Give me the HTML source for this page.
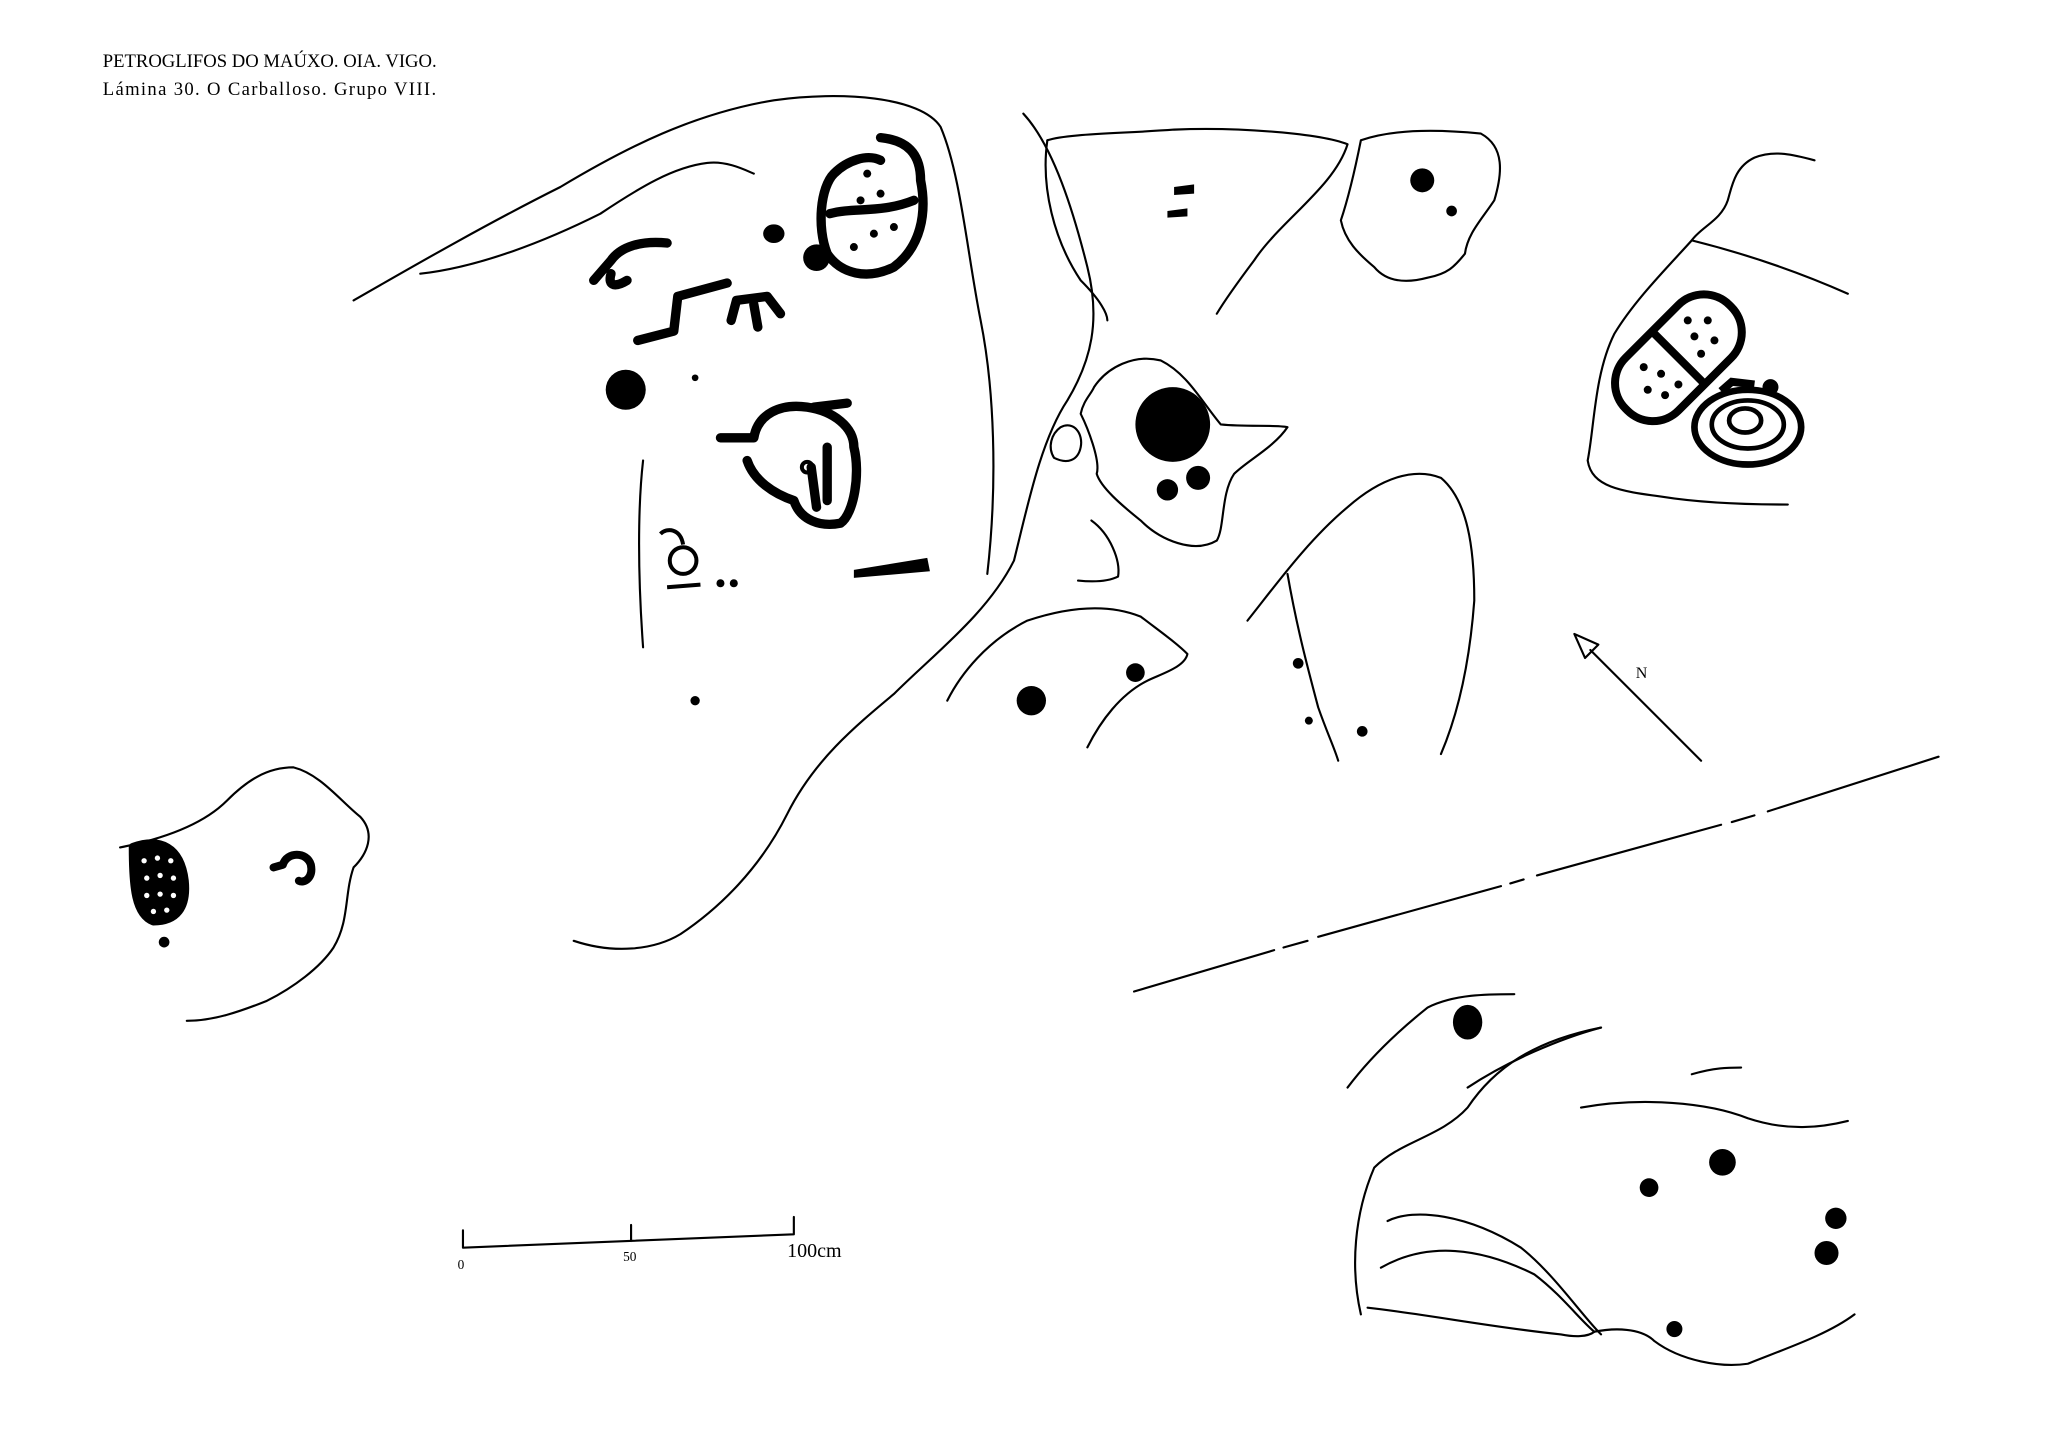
<!DOCTYPE html>
<html><head><meta charset="utf-8"><style>
html,body{margin:0;padding:0;background:#fff;}
svg{display:block;}
text{font-family:"Liberation Serif",serif;fill:#000;}
</style></head><body>
<svg width="2068" height="1432" viewBox="0 0 1550 1073" xmlns="http://www.w3.org/2000/svg">
<g fill="none" stroke="#000" stroke-width="1.6" stroke-linecap="round" stroke-linejoin="round">
<path d="M265,225 C300,205 360,170 420,140 C470,110 520,85 580,75 C630,68 690,72 705,95 C720,130 725,190 735,240 C745,290 748,360 740,430"/>
<path d="M315,205 C360,200 410,180 450,160 C480,140 505,125 530,122 C545,120 560,128 565,130"/>
<path d="M482,345 C478,380 478,430 482,485"/>
<path d="M767,85 C790,110 805,160 815,200 C825,240 818,270 800,300 C780,330 770,380 760,420 C740,460 700,490 670,520 C640,545 610,570 590,610 C570,650 540,680 510,700 C490,712 460,715 430,705"/>
<path d="M785,105 C800,100 840,100 880,97 C930,95 990,100 1010,108 C1000,140 960,165 940,195 C925,215 915,230 912,235"/>
<path d="M785,105 C780,140 790,180 810,210 C825,225 830,235 830,240"/>
<path d="M820,290 C830,275 850,265 870,270 C890,280 900,300 915,318 C935,320 955,318 965,320 C955,335 935,345 925,355 C915,370 918,395 912,405 C895,415 870,405 855,390 C840,378 825,365 822,355 C825,345 815,320 810,310 C812,300 818,295 820,290Z"/>
<path d="M795,320 C805,315 812,325 810,335 C808,345 800,348 790,343 C785,335 788,325 795,320Z"/>
<path d="M818,390 C832,400 840,420 838,432 C830,436 818,436 808,435"/>
<path d="M1020,105 C1040,98 1070,96 1110,100 C1128,110 1126,130 1120,150 C1110,165 1100,175 1098,190 C1090,200 1085,205 1070,208 C1055,212 1040,212 1030,200 C1018,190 1008,180 1005,165 C1010,150 1015,130 1020,105Z"/>
<path d="M935,465 C955,440 980,405 1010,380 C1035,358 1060,350 1080,358 C1100,375 1105,410 1105,450 C1102,490 1095,530 1080,565"/>
<path d="M965,430 C972,470 980,500 988,530 C995,550 1000,560 1003,570"/>
<path d="M710,525 C720,505 740,480 770,465 C800,455 830,452 855,462 C872,475 882,482 890,490 C888,500 870,505 860,510 C840,520 825,540 815,560"/>
<path d="M1360,120 C1345,116 1330,112 1315,118 C1300,125 1298,140 1295,150 C1290,165 1275,170 1268,180 C1250,200 1225,225 1210,250 C1195,280 1195,320 1190,345 C1193,365 1215,368 1245,372 C1270,376 1300,378 1340,378"/>
<path d="M1268,180 C1300,188 1340,200 1385,220"/>
<path d="M1275,570 L1192,487"/>
<path d="M1180,475 L1198,483 L1188,493 Z"/>
<path d="M850,743 L955,712 M962,710 L980,705 M988,702 L1125,664 M1132,662 L1142,659 M1152,656 L1290,618 M1298,616 L1315,611 M1325,608 L1453,567"/>
<path d="M1010,815 C1025,795 1045,775 1070,755 C1090,745 1115,745 1135,745"/>
<path d="M1100,815 C1130,795 1170,778 1200,770"/>
<path d="M1268,805 C1285,800 1295,800 1305,800"/>
<path d="M1185,830 C1230,822 1280,826 1310,838 C1340,848 1365,845 1385,840"/>
<path d="M1020,985 C1012,950 1015,910 1030,875 C1050,855 1080,852 1100,830 C1120,800 1150,780 1200,770"/>
<path d="M1040,915 C1060,905 1100,910 1140,935 C1165,955 1185,985 1200,1000"/>
<path d="M1035,950 C1070,930 1110,935 1150,955 C1170,970 1185,990 1195,998 C1190,1002 1180,1002 1170,1000 C1120,995 1070,985 1025,980"/>
<path d="M1195,998 C1210,995 1230,995 1240,1005 C1260,1020 1290,1025 1310,1022 C1340,1010 1370,1000 1390,985"/>
<path d="M90,635 C115,630 150,620 170,600 C185,585 200,575 220,575 C240,580 255,600 270,612 C282,625 275,640 265,650 C258,670 262,690 250,710 C240,725 220,740 200,750 C180,758 160,765 140,765"/>
<path d="M347,935 L595,925 M347,935 L347,922 M473,930 L473,918 M595,925 L595,912"/>
</g>
<g fill="#000">
<ellipse cx="469" cy="292" rx="15" ry="15"/>
<ellipse cx="580" cy="175" rx="8" ry="7"/>
<ellipse cx="612" cy="193" rx="10" ry="10"/>
<circle cx="521" cy="283" r="2.5"/>
<circle cx="521" cy="525" r="3.5"/>
<circle cx="540" cy="437" r="3"/><circle cx="550" cy="437" r="3"/>
<path d="M640,427 L695,418 L697,428 L640,433Z"/>
</g>
<g fill="none" stroke="#000" stroke-width="7" stroke-linecap="round" stroke-linejoin="round">
<path d="M445,210 L458,195 C465,185 480,180 500,182"/>
<path d="M458,205 C455,215 462,215 470,210"/>
<path d="M478,255 L505,248 L508,222 L545,212"/>
<path d="M548,240 L552,225 L575,222 L585,235"/>
<path d="M565,228 L568,245"/>
<path d="M660,103 C680,105 690,115 690,135 C695,160 690,185 670,200 C650,210 630,205 620,190 C612,170 615,140 625,130 C635,120 650,115 660,120"/>
<path d="M622,160 C640,155 660,160 685,150"/>
<path d="M540,328 L565,328 C568,310 585,302 605,305 C625,308 640,320 640,335 C645,355 640,385 630,392 C615,395 600,390 595,375 C580,370 565,360 560,345"/>
<path d="M610,305 L635,302"/>
<path d="M620,335 L620,375 M608,350 L612,380"/>
<path d="M100,635 C120,628 135,635 138,660 C140,680 132,690 115,690 C102,685 100,665 100,635Z" fill="#000"/>
<path d="M205,650 L212,648 C215,638 230,638 233,648 C235,658 228,662 224,660" stroke-width="6"/>
</g>
<g fill="none" stroke="#000" stroke-width="3">
<circle cx="512" cy="420" r="10"/>
<path d="M495,400 C500,395 510,396 512,408"/>
<path d="M500,440 L525,438"/>
<circle cx="605" cy="350" r="4"/>
</g>
<g fill="#000">
<circle cx="650" cy="130" r="3"/><circle cx="645" cy="150" r="3"/><circle cx="660" cy="145" r="3"/>
<circle cx="655" cy="175" r="3"/><circle cx="640" cy="185" r="3"/><circle cx="670" cy="170" r="3"/>
<ellipse cx="879" cy="318" rx="28" ry="28"/>
<circle cx="875" cy="367" r="8"/><circle cx="898" cy="358" r="9"/>
<path d="M880,140 L895,138 L895,145 L880,146Z M875,158 L890,156 L890,162 L875,163Z"/>
<circle cx="1066" cy="135" r="9"/><circle cx="1088" cy="158" r="4"/>
<circle cx="773" cy="525" r="11"/><circle cx="851" cy="504" r="7"/>
<circle cx="973" cy="497" r="4"/><circle cx="981" cy="540" r="3"/><circle cx="1021" cy="548" r="4"/>
<circle cx="123" cy="706" r="4"/>
<ellipse cx="1100" cy="766" rx="11" ry="13"/>
<circle cx="1236" cy="890" r="7"/><circle cx="1291" cy="871" r="10"/>
<circle cx="1376" cy="913" r="8"/><circle cx="1369" cy="939" r="9"/>
<circle cx="1255" cy="996" r="6"/>
</g>
<g fill="none" stroke="#000" stroke-width="6">
<g transform="translate(1258,268) rotate(-45)">
<rect x="-55" y="-28" width="110" height="56" rx="27"/>
<line x1="0" y1="-28" x2="0" y2="28"/>
</g>
<ellipse cx="1310" cy="320" rx="40" ry="28" stroke-width="5"/>
<ellipse cx="1310" cy="318" rx="27" ry="18" stroke-width="3.5"/>
<ellipse cx="1308" cy="315" rx="12" ry="9" stroke-width="3.5"/>
<path d="M1290,293 L1298,286 L1315,288"/>
<circle cx="1327" cy="290" r="3"/>
</g>
<g fill="#000">
<circle cx="1265" cy="240" r="3"/><circle cx="1280" cy="240" r="3"/><circle cx="1285" cy="255" r="3"/>
<circle cx="1270" cy="252" r="3"/><circle cx="1275" cy="265" r="3"/>
<circle cx="1232" cy="275" r="3"/><circle cx="1245" cy="280" r="3"/><circle cx="1235" cy="292" r="3"/>
<circle cx="1248" cy="296" r="3"/><circle cx="1258" cy="288" r="3"/>
</g>
<g fill="#fff">
<circle cx="108" cy="645" r="2"/><circle cx="118" cy="643" r="2"/><circle cx="128" cy="645" r="2"/>
<circle cx="110" cy="658" r="2"/><circle cx="120" cy="656" r="2"/><circle cx="130" cy="658" r="2"/>
<circle cx="110" cy="671" r="2"/><circle cx="120" cy="670" r="2"/><circle cx="130" cy="671" r="2"/>
<circle cx="115" cy="683" r="2"/><circle cx="125" cy="682" r="2"/>
</g>
<text x="77" y="50" font-size="14">PETROGLIFOS DO MAÚXO. OIA. VIGO.</text>
<text x="77" y="71" font-size="14" letter-spacing="1">Lámina 30. O Carballoso. Grupo VIII.</text>
<text x="1226" y="508" font-size="12" font-family="Liberation Sans">N</text>
<text x="343" y="951" font-size="10" font-family="Liberation Sans">0</text>
<text x="467" y="945" font-size="10" font-family="Liberation Sans">50</text>
<text x="590" y="942" font-size="15" font-family="Liberation Sans">100cm</text>
</svg>
</body></html>
